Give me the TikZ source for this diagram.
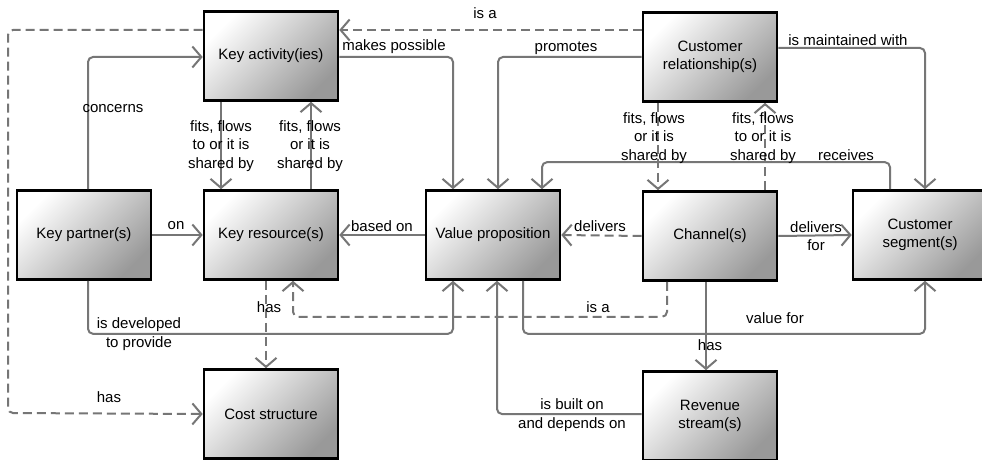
\documentclass[tikz,border=0pt]{standalone}
\usepackage{fontspec}
\setmainfont{Liberation Sans}
\usetikzlibrary{arrows.meta}
\definecolor{linegray}{RGB}{118,118,118}
\tikzset{
  box/.style={draw=black, line width=2.6pt, minimum width=134pt, minimum height=89pt,
    inner sep=2pt, align=center, top color=white, bottom color=black!40, shading angle=45,
    font=\fontsize{15}{18.5}\selectfont},
  conn/.style={draw=linegray, line width=2pt, rounded corners=5pt,
    -{Straight Barb[length=9pt,width=21pt,line width=2pt]}},
  dconn/.style={conn, dash pattern=on 9pt off 5pt},
  lbl/.style={align=center, inner sep=0pt, font=\fontsize{15}{18.5}\selectfont}
}
\begin{document}
\begin{tikzpicture}[x=1pt,y=-1pt]
\useasboundingbox (0,0) rectangle (982,460);
\clip (0,0) rectangle (982,460);
\fill[white] (0,0) rectangle (982,460);
% boxes
\node[box] (ka) at (271,56) {Key activity(ies)};
\node[box] (kr) at (271,235) {Key resource(s)};
\node[box] (kp) at (84,235) {Key partner(s)};
\node[box] (vp) at (493,235) {Value proposition};
\node[box] (cr) at (710,57) {Customer\\relationship(s)};
\node[box] (ch) at (710,236) {Channel(s)};
\node[box] (cs) at (920,235) {Customer\\segment(s)};
\node[box] (cost) at (271,414) {Cost structure};
\node[box] (rev) at (710,416) {Revenue\\stream(s)};
\coordinate (farleft) at (8,413);
% connectors
\draw[conn] ([xshift=4pt]kp.north) |- ([yshift=-1pt]ka.west);
\draw[conn] (kp.east) -- (kr.west);
\draw[conn] ([xshift=-50pt]ka.south) -- ([xshift=-50pt]kr.north);
\draw[conn] ([xshift=40pt]kr.north) -- ([xshift=40pt]ka.south);
\draw[conn] ([yshift=-1pt]ka.east) -| ([xshift=-40pt]vp.north);
\draw[conn] (vp.west) -- (kr.east);
\draw[dconn] ([yshift=27pt]cr.west) -- ([yshift=26pt]ka.east);
\draw[dconn] ([yshift=26pt]ka.west) -| (farleft) -- (cost.west);
\draw[dconn] ([xshift=-5pt]kr.south) -- ([xshift=-5pt]cost.north);
\draw[dconn] ([xshift=-43pt]ch.south) -- ++(0,35) -| ([xshift=22pt]kr.south);
\draw[conn] ([xshift=4pt]kp.south) -- ++(0,53) -| ([xshift=-40pt]vp.south);
\draw[conn] ([xshift=30pt]vp.south) -- ++(0,53) -| ([xshift=5pt]cs.south);
\draw[dconn] (ch.west) -- (vp.east);
\draw[conn] (ch.east) -- (cs.west);
\draw[conn] ([xshift=-4pt]ch.south) -- ([xshift=-4pt]rev.north);
\draw[conn] ([yshift=2pt]rev.west) -| ([xshift=4pt]vp.south);
\draw[conn] (cr.west) -| ([xshift=5pt]vp.north);
\draw[conn] ([yshift=9pt]cr.east) -| ([xshift=5pt]cs.north);
\draw[conn] ([xshift=-30pt]cs.north) -- ++(0,-27) -| ([xshift=49pt]vp.north);
\draw[dconn] ([xshift=-52pt]cr.south) -- ([xshift=-52pt]ch.north);
\draw[dconn] ([xshift=55pt]ch.north) -- ([xshift=55pt]cr.south);
% labels
\node[lbl] (l1) at (113,109) {concerns};
\node[lbl] (l2) at (176,226) {on};
\node[lbl] (l3) at (221,146) {fits, flows\\to or it is\\shared by};
\node[lbl] (l4) at (310,146) {fits, flows\\or it is\\shared by};
\node[lbl] (l5) at (394,47) {makes possible};
\node[lbl] (l6) at (382,226) {based on};
\node[lbl] (l7) at (485,13) {is a};
\node[lbl] (l8) at (109,397) {has};
\node[lbl] (l9) at (269,307) {has};
\node[lbl] (l10) at (598,307) {is a};
\node[lbl] (l11) at (139,334) {is developed\\to provide};
\node[lbl] (l12) at (775,318) {value for};
\node[lbl] (l13) at (600,226) {delivers};
\node[lbl] (l14) at (816,236) {delivers\\for};
\node[lbl] (l15) at (710,345) {has};
\node[lbl] (l16) at (572,415) {is built on\\and depends on};
\node[lbl] (l17) at (566,48) {promotes};
\node[lbl] (l18) at (848,40) {is maintained with};
\node[lbl] (l19) at (846,155) {receives};
\node[lbl] (l20) at (654,138) {fits, flows\\or it is\\shared by};
\node[lbl] (l21) at (763,138) {fits, flows\\to or it is\\shared by};
\end{tikzpicture}
\end{document}
